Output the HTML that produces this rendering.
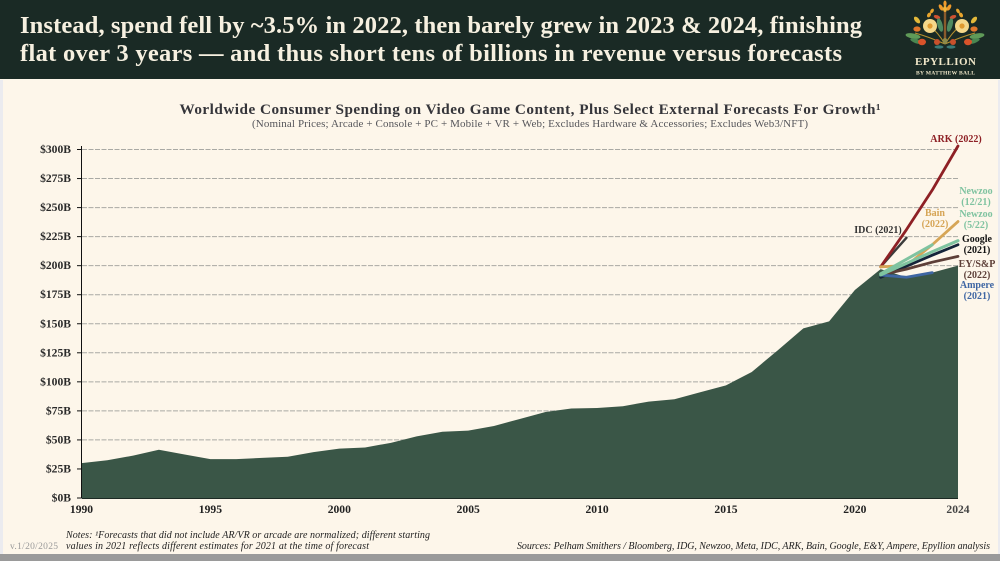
<!DOCTYPE html>
<html lang="en">
<head>
<meta charset="utf-8">
<title>Worldwide Consumer Spending on Video Game Content</title>
<style>
html,body{margin:0;padding:0;background:#fdf6ea;}
#stage{position:relative;width:1000px;height:561px;overflow:hidden;}
svg{display:block;}
text{font-family:"Liberation Serif",serif;}
</style>
</head>
<body>
<div id="stage">
<svg id="chart" width="1000" height="561" viewBox="0 0 1000 561" xmlns="http://www.w3.org/2000/svg">
  <rect x="0" y="0" width="1000" height="561" fill="#fdf6ea"/>
  <rect x="0" y="80" width="3" height="475" fill="#ebebef"/>
  <rect x="998" y="80" width="2" height="475" fill="#ebebef"/>
  <rect x="0" y="554" width="1000" height="7" fill="#9a9a9a"/>
  <rect x="0" y="0" width="1000" height="79" fill="#1a2a25"/>
  <text x="20" y="33" font-size="24.5" font-weight="bold" fill="#f6f0e0" textLength="842" lengthAdjust="spacing">Instead, spend fell by ~3.5% in 2022, then barely grew in 2023 &amp; 2024, finishing</text>
  <text x="20" y="61" font-size="24.5" font-weight="bold" fill="#f6f0e0" textLength="822" lengthAdjust="spacing">flat over 3 years — and thus short tens of billions in revenue versus forecasts</text>

  <g>
    <g>
      <path d="M945 5 L945 44" stroke="#8a5a2c" stroke-width="2.4" fill="none"/>
      <path d="M945 44 C936 40 926 36 915 33 M945 44 C954 40 964 36 975 33 M945 44 C940 36 935 30 930 26 M945 44 C950 36 955 30 960 26" stroke="#b8922f" stroke-width="1.1" fill="none"/>
      <ellipse cx="945" cy="3.5" rx="1.6" ry="3" fill="#ef9a2c"/>
      <ellipse cx="941" cy="7.5" rx="1.8" ry="3.5" fill="#ef9a2c" transform="rotate(-30 941 7.5)"/>
      <ellipse cx="949" cy="7.5" rx="1.8" ry="3.5" fill="#ef9a2c" transform="rotate(30 949 7.5)"/>
      <ellipse cx="945" cy="9" rx="2" ry="3" fill="#f0b33c"/>
      <ellipse cx="932" cy="11" rx="1.6" ry="2.6" fill="#e8a42c" transform="rotate(30 932 11)"/>
      <ellipse cx="929" cy="15" rx="1.8" ry="2.6" fill="#e8a42c" transform="rotate(30 929 15)"/>
      <ellipse cx="958" cy="11" rx="1.6" ry="2.6" fill="#e8a42c" transform="rotate(-30 958 11)"/>
      <ellipse cx="961" cy="15" rx="1.8" ry="2.6" fill="#e8a42c" transform="rotate(-30 961 15)"/>
      <ellipse cx="917" cy="20" rx="2.2" ry="4" fill="#e4b93a" transform="rotate(-40 917 20)"/>
      <ellipse cx="974" cy="20" rx="2.2" ry="4" fill="#e4b93a" transform="rotate(40 974 20)"/>
      <ellipse cx="937" cy="17" rx="3.4" ry="1.8" fill="#cf5232" transform="rotate(20 937 17)"/>
      <ellipse cx="953" cy="17" rx="3.4" ry="1.8" fill="#cf5232" transform="rotate(-20 953 17)"/>
      <ellipse cx="940" cy="25" rx="2.6" ry="7" fill="#4f8a60" transform="rotate(-15 940 25)"/>
      <ellipse cx="950" cy="25" rx="2.6" ry="7" fill="#4f8a60" transform="rotate(15 950 25)"/>
      <ellipse cx="913" cy="36" rx="7.5" ry="2.6" fill="#5f9a58" transform="rotate(10 913 36)"/>
      <ellipse cx="916" cy="41" rx="6" ry="2.2" fill="#4a8650" transform="rotate(20 916 41)"/>
      <ellipse cx="977" cy="36" rx="7.5" ry="2.6" fill="#5f9a58" transform="rotate(-10 977 36)"/>
      <ellipse cx="974" cy="41" rx="6" ry="2.2" fill="#4a8650" transform="rotate(-20 974 41)"/>
      <circle cx="930" cy="26" r="7" fill="#f5d78a"/>
      <circle cx="962" cy="26" r="7" fill="#f5d78a"/>
      <circle cx="930" cy="26" r="2.6" fill="#e09a30"/>
      <circle cx="962" cy="26" r="2.6" fill="#e09a30"/>
      <ellipse cx="917" cy="29" rx="3.6" ry="2.6" fill="#e2762c"/>
      <ellipse cx="974" cy="29" rx="3.6" ry="2.6" fill="#e2762c"/>
      <ellipse cx="922" cy="42" rx="4" ry="3.2" fill="#d9532a"/>
      <ellipse cx="968" cy="42" rx="4" ry="3.2" fill="#d9532a"/>
      <circle cx="937" cy="42" r="3" fill="#c8502c"/>
      <circle cx="953" cy="42" r="3" fill="#c8502c"/>
      <ellipse cx="945" cy="41" rx="2.4" ry="3" fill="#8c8a4a"/>
      <ellipse cx="939" cy="47" rx="4.5" ry="1.6" fill="#3b7a78"/>
      <ellipse cx="951" cy="47" rx="4.5" ry="1.6" fill="#3b7a78"/>
    </g>
    <text x="945.5" y="65" font-size="11" font-weight="bold" fill="#efe6c8" text-anchor="middle" textLength="61" lengthAdjust="spacing">EPYLLION</text>
    <text x="945.5" y="74.5" font-size="5.6" font-weight="bold" fill="#efe6c8" text-anchor="middle" textLength="59" lengthAdjust="spacing">BY MATTHEW BALL</text>
  </g>

  <text x="530" y="114" font-size="15.2" font-weight="bold" fill="#35353a" text-anchor="middle" textLength="701" lengthAdjust="spacing">Worldwide Consumer Spending on Video Game Content, Plus Select External Forecasts For Growth¹</text>
  <text x="530" y="127" font-size="11" fill="#55555a" text-anchor="middle" textLength="556" lengthAdjust="spacing">(Nominal Prices; Arcade + Console + PC + Mobile + VR + Web; Excludes Hardware &amp; Accessories; Excludes Web3/NFT)</text>

  <g id="grid"></g>
  <g id="plot"></g>
  <g id="axes"></g>
  <g id="labels"></g>

  <text x="66" y="538" font-size="10" font-style="italic" fill="#222" textLength="364" lengthAdjust="spacing">Notes: ¹Forecasts that did not include AR/VR or arcade are normalized; different starting</text>
  <text x="66" y="549" font-size="10" font-style="italic" fill="#222" textLength="303" lengthAdjust="spacing">values in 2021 reflects different estimates for 2021 at the time of forecast</text>
  <text x="10" y="549" font-size="9.5" fill="#9a9a9a" textLength="48" lengthAdjust="spacing">v.1/20/2025</text>
  <text x="517" y="549" font-size="10" font-style="italic" fill="#222" textLength="473" lengthAdjust="spacing">Sources: Pelham Smithers / Bloomberg, IDG, Newzoo, Meta, IDC, ARK, Bain, Google, E&amp;Y, Ampere, Epyllion analysis</text>
</svg>
</div>
<script>
const years = [1990,1991,1992,1993,1994,1995,1996,1997,1998,1999,2000,2001,2002,2003,2004,2005,2006,2007,2008,2009,2010,2011,2012,2013,2014,2015,2016,2017,2018,2019,2020,2021,2022,2023,2024];
const spending = [30,32.5,36.5,41.5,37.5,33.5,33.5,34.5,35.5,39.5,42.5,43.5,47.5,53,57,58,62,68,74,77,77.5,79,83,85,91,97,108.5,127,146,152,179,197,190,194,200];
const yTickValues = [0,25,50,75,100,125,150,175,200,225,250,275,300];
const xTickYears = [1990,1995,2000,2005,2010,2015,2020,2024];

const idcYears = [2021,2022];
const idcValues = [199,224];
const arkYears = [2021,2022,2023,2024];
const arkValues = [199,231,265,303];
const bainYears = [2021,2022,2023,2024];
const bainValues = [199,200,218,238];
const newzooDecYears = [2021,2022,2023];
const newzooDecValues = [193,205.5,218];
const newzooMayYears = [2021,2022,2023,2024];
const newzooMayValues = [192,202,212,221.5];
const googleYears = [2021,2022,2023,2024];
const googleValues = [190,199.5,209,218];
const eyYears = [2021,2022,2023,2024];
const eyValues = [192,197,203,208];
const ampereYears = [2021,2022,2023];
const ampereValues = [192,190,194];

const SVG_NS = 'http://www.w3.org/2000/svg';
const xScale = function (year) { return 81.5 + (year - 1990) * (958 - 81.5) / 34; };
const yScale = function (value) { return 498 - value * (498 - 149.5) / 300; };

function make(tag, parent, attrs) {
  const el = document.createElementNS(SVG_NS, tag);
  Object.keys(attrs).forEach(function (k) { el.setAttribute(k, attrs[k]); });
  parent.appendChild(el);
  return el;
}

const gridG = document.getElementById('grid');
const axesG = document.getElementById('axes');
const plotG = document.getElementById('plot');
const labelsG = document.getElementById('labels');

yTickValues.forEach(function (v) {
  if (v > 0) {
    const line = make('line', gridG, {x1: 82, x2: 958, y1: yScale(v), y2: yScale(v), stroke: '#a9a9a4', 'stroke-width': 1, 'stroke-dasharray': '5 1.5'});
    
    
  }
  const tick = make('line', axesG, {x1: 77, x2: 81, y1: yScale(v), y2: yScale(v), stroke: '#111', 'stroke-width': 1});
  
  
  const label = make('text', axesG, {x: 71, y: yScale(v) + 3.5, 'text-anchor': 'end', 'font-size': 11.6, 'font-weight': 'bold', fill: '#2a2a2a'});
  label.textContent = '$' + v + 'B';
  
  
});

xTickYears.forEach(function (yr) {
  const label = make('text', axesG, {x: xScale(yr), y: 513, 'text-anchor': 'middle', 'font-size': 11.6, 'font-weight': 'bold', fill: yr === 2024 ? '#444' : '#222'});
  label.textContent = String(yr);
  
  
});

let areaPath = 'M' + xScale(years[0]) + ' ' + yScale(0);
years.forEach(function (yr, i) { areaPath += ' L' + xScale(yr) + ' ' + yScale(spending[i]); });
areaPath += ' L' + xScale(years[years.length - 1]) + ' ' + yScale(0) + ' Z';
const area = make('path', plotG, {d: areaPath, fill: '#3a5647'});



const yAxis = make('line', axesG, {x1: 81.5, x2: 81.5, y1: 146, y2: 498, stroke: '#111', 'stroke-width': 1});


const xAxis = make('line', axesG, {x1: 81.5, x2: 958, y1: 498.5, y2: 498.5, stroke: '#1c2a24', 'stroke-width': 1});



function forecastPath(xs, vs) {
  return xs.map(function (yr, i) { return (i ? 'L' : 'M') + xScale(yr) + ' ' + yScale(vs[i]); }).join(' ');
}

const lineIdc = make('path', plotG, {d: forecastPath(idcYears, idcValues), fill: 'none', stroke: '#3b3b3b', 'stroke-width': 2.4, 'stroke-linecap': 'round'});


const lineArk = make('path', plotG, {d: forecastPath(arkYears, arkValues), fill: 'none', stroke: '#8e2025', 'stroke-width': 2.8, 'stroke-linecap': 'round', 'stroke-linejoin': 'round'});


const lineBain = make('path', plotG, {d: forecastPath(bainYears, bainValues), fill: 'none', stroke: '#d6a556', 'stroke-width': 2.8, 'stroke-linecap': 'round', 'stroke-linejoin': 'round'});


const lineGoogle = make('path', plotG, {d: forecastPath(googleYears, googleValues), fill: 'none', stroke: '#14243a', 'stroke-width': 2.8, 'stroke-linecap': 'round', 'stroke-linejoin': 'round'});


const lineEy = make('path', plotG, {d: forecastPath(eyYears, eyValues), fill: 'none', stroke: '#5d3f38', 'stroke-width': 2.8, 'stroke-linecap': 'round', 'stroke-linejoin': 'round'});


const lineAmpere = make('path', plotG, {d: forecastPath(ampereYears, ampereValues), fill: 'none', stroke: '#3f66a3', 'stroke-width': 2.8, 'stroke-linecap': 'round', 'stroke-linejoin': 'round'});


const lineNewzooMay = make('path', plotG, {d: forecastPath(newzooMayYears, newzooMayValues), fill: 'none', stroke: '#7fc3a0', 'stroke-width': 3, 'stroke-linecap': 'round', 'stroke-linejoin': 'round'});


const lineNewzooDec = make('path', plotG, {d: forecastPath(newzooDecYears, newzooDecValues), fill: 'none', stroke: '#7fc3a0', 'stroke-width': 3, 'stroke-linecap': 'round', 'stroke-linejoin': 'round'});



const forecastLabelText = [
  ['ARK (2022)', 956, 142, '#8e2025'],
  ['IDC (2021)', 878, 233, '#333333'],
  ['Newzoo', 976, 194, '#7fc3a0'],
  ['(12/21)', 976, 205, '#7fc3a0'],
  ['Bain', 935, 216, '#d6a556'],
  ['(2022)', 935, 227, '#d6a556'],
  ['Newzoo', 976, 217, '#7fc3a0'],
  ['(5/22)', 976, 228, '#7fc3a0'],
  ['Google', 977, 242, '#111111'],
  ['(2021)', 977, 253, '#111111'],
  ['EY/S&P', 977, 267, '#5d3f38'],
  ['(2022)', 977, 278, '#5d3f38'],
  ['Ampere', 977, 288, '#3f66a3'],
  ['(2021)', 977, 299, '#3f66a3']
];
forecastLabelText.forEach(function (item) {
  const t = make('text', labelsG, {x: item[1], y: item[2], 'text-anchor': 'middle', 'font-size': 10, 'font-weight': 'bold', fill: item[3]});
  t.textContent = item[0];
  
  
});
</script>
</body>
</html>
